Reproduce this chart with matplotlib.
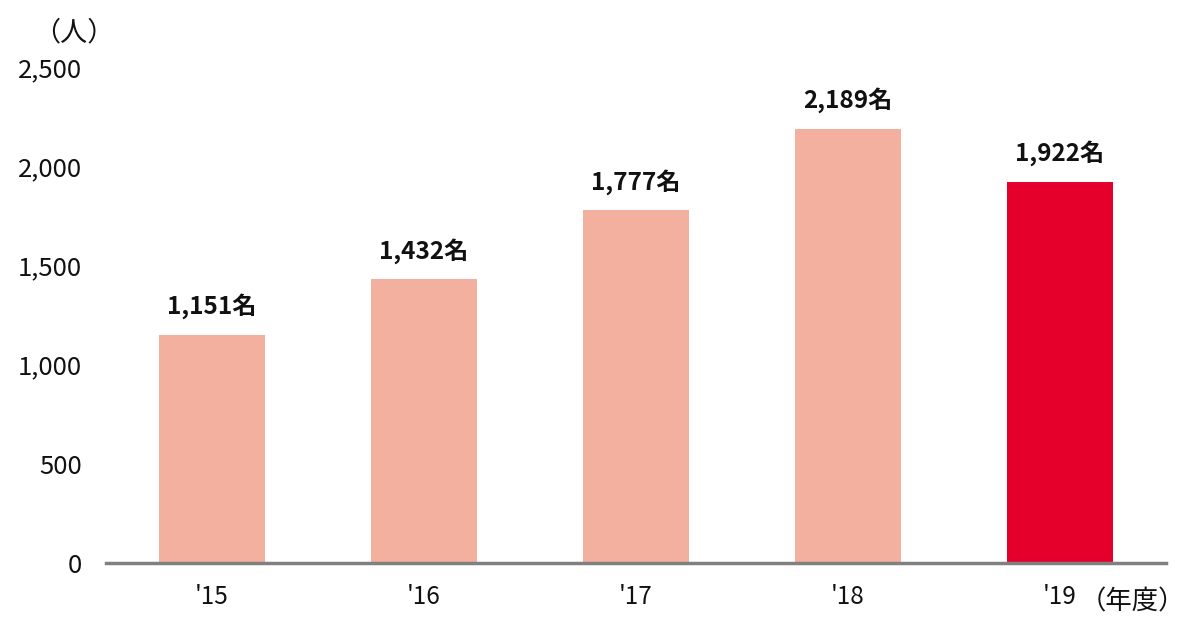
import matplotlib
matplotlib.use("Agg")
import matplotlib.pyplot as plt

plt.rcParams['font.family'] = ['Noto Sans CJK JP', 'DejaVu Sans']

years = ["'15", "'16", "'17", "'18", "'19"]
values = [1151, 1432, 1777, 2189, 1922]
colors = ["#F4B09E", "#F4B09E", "#F4B09E", "#F4B09E", "#E4002B"]
yticks = [0, 500, 1000, 1500, 2000, 2500]

fig = plt.figure(figsize=(12, 6.28), dpi=100)
ax = fig.add_axes([0.0883, 0.1035, 0.8834, 0.79])
x = list(range(len(years)))
ax.bar(x, values, width=0.5, color=colors, zorder=2)
ax.set_xlim(-0.5, 4.5)
ax.set_ylim(0, 2500)
ax.set_yticks(yticks)
ax.set_yticklabels([f"{v:,}" for v in yticks], fontsize=18.5)
ax.set_xticks(x)
ax.set_xticklabels(years, fontsize=17.5)
ax.tick_params(axis='both', length=0, colors='#111111')
ax.tick_params(axis='y', pad=17)
ax.tick_params(axis='x', pad=15)
for s in ['top', 'right', 'left']:
    ax.spines[s].set_visible(False)
ax.spines['bottom'].set_color('#808080')
ax.spines['bottom'].set_linewidth(2.5)
ax.spines['bottom'].set_zorder(3)

for xi, v in zip(x, values):
    ax.annotate(f"{v:,}名", (xi, v), xytext=(0, 11), textcoords='offset points',
                ha='center', va='bottom', fontsize=17.5, fontweight='bold', color='#111111')

ax.annotate("（年度）", (4, 0), xycoords=('data', 'data'), xytext=(14, -18),
            textcoords='offset points', ha='left', va='top', fontsize=19, color='#111111')
fig.text(0.028, 0.948, "（人）", fontsize=19.5, ha='left', va='center', color='#111111')

fig.savefig("out.png", dpi=100)
